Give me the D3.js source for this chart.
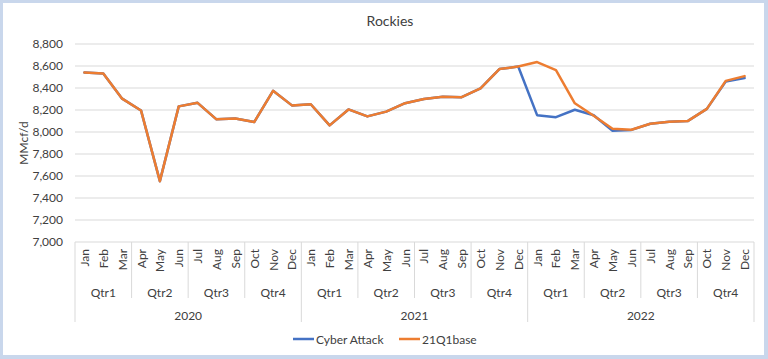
<!DOCTYPE html>
<html>
<head>
<meta charset="utf-8">
<script src="https://cdn.jsdelivr.net/npm/d3@7"></script>
<style>
  html, body { margin: 0; padding: 0; background: #c9d7ec; }
  svg { display: block; }
  text { font-family: Lato, "Open Sans", sans-serif; fill: #404040; }
</style>
</head>
<body>
<svg id="chart" width="768" height="359"></svg>
<script>
const monthNames = ["Jan","Feb","Mar","Apr","May","Jun","Jul","Aug","Sep","Oct","Nov","Dec"];
const quarterNames = ["Qtr1","Qtr2","Qtr3","Qtr4"];
const years = ["2020","2021","2022"];
const yTicks = [7000,7200,7400,7600,7800,8000,8200,8400,8600,8800];

const base21Q1 = [
  8540, 8532, 8303, 8196, 7553, 8233, 8265, 8115, 8122, 8090, 8374, 8242,
  8252, 8060, 8205, 8142, 8185, 8262, 8300, 8320, 8316, 8396, 8572, 8595,
  8636, 8563, 8261, 8148, 8030, 8021, 8075, 8093, 8101, 8210, 8465, 8508
];
const cyberAttack = [
  8540, 8532, 8303, 8196, 7553, 8233, 8265, 8115, 8122, 8090, 8374, 8242,
  8252, 8060, 8205, 8142, 8185, 8262, 8300, 8320, 8316, 8396, 8572, 8595,
  8153, 8135, 8202, 8152, 8012, 8019, 8075, 8093, 8101, 8210, 8458, 8490
];
const seriesNames = ["Cyber Attack", "21Q1base"];
const seriesColors = ["#4472C4", "#ED7D31"];

const categories = [];
years.forEach(yr => monthNames.forEach((m, i) => categories.push({year: yr, q: quarterNames[Math.floor(i/3)], m})));
const idx = d3.range(categories.length);

const svg = d3.select("#chart");
svg.append("rect").attr("x", 3).attr("y", 3).attr("width", 761).attr("height", 352).attr("fill", "#fff");

const pLeft = 75, pRight = 754, pTop = 44, pBottom = 242;
const x = d3.scaleBand().domain(idx).range([pLeft, pRight]);
const y = d3.scaleLinear().domain([7000, 8800]).range([pBottom, pTop]);

// title
svg.append("text").attr("x", 390).attr("y", 20).attr("text-anchor", "middle")
  .attr("dominant-baseline", "central").style("font-size", "14px").text("Rockies");

// gridlines
svg.append("g").selectAll("line").data(yTicks).join("line")
  .attr("x1", pLeft).attr("x2", pRight)
  .attr("y1", d => y(d)).attr("y2", d => y(d))
  .attr("stroke", "#d9d9d9").attr("stroke-width", 1);

// y axis labels
const yAxis = d3.axisLeft(y).tickValues(yTicks).tickFormat(d3.format(",")).tickSize(0).tickPadding(12);
const yg = svg.append("g").attr("transform", `translate(${pLeft},0)`).call(yAxis);
yg.select(".domain").remove();
yg.selectAll("text").style("font-size", "12px").style("font-family", "Lato, sans-serif").attr("fill", "#404040");

svg.append("text").attr("transform", `translate(23,${(pTop+pBottom)/2}) rotate(-90)`)
  .attr("text-anchor", "middle").attr("dominant-baseline", "central")
  .style("font-size", "12px").text("MMcf/d");

// category axis
const axisG = svg.append("g");
const bounds = d3.range(0, categories.length + 1, 3);
axisG.selectAll("line.div").data(bounds).join("line")
  .attr("x1", d => pLeft + d * x.step()).attr("x2", d => pLeft + d * x.step())
  .attr("y1", pBottom).attr("y2", d => d % 12 === 0 ? 322 : 298)
  .attr("stroke", "#d9d9d9");

axisG.selectAll("text.m").data(idx).join("text")
  .attr("transform", d => `translate(${x(d) + x.bandwidth()/2},249) rotate(-90)`)
  .attr("text-anchor", "end").attr("dominant-baseline", "central")
  .style("font-size", "12px").text(d => categories[d].m);

const qIdx = d3.range(categories.length / 3);
axisG.selectAll("text.q").data(qIdx).join("text")
  .attr("x", d => pLeft + (d * 3 + 1.5) * x.step()).attr("y", 292)
  .attr("text-anchor", "middle").attr("dominant-baseline", "central")
  .style("font-size", "12px").text(d => quarterNames[d % 4]);

axisG.selectAll("text.y").data(years).join("text")
  .attr("x", (d, i) => pLeft + (i * 12 + 6) * x.step()).attr("y", 315)
  .attr("text-anchor", "middle").attr("dominant-baseline", "central")
  .style("font-size", "12px").text(d => d);

// lines
const line = d3.line().x((d, i) => x(i) + x.bandwidth()/2).y(d => y(d));
[cyberAttack, base21Q1].forEach((s, k) => {
  svg.append("path").datum(s).attr("d", line).attr("fill", "none")
    .attr("stroke", seriesColors[k]).attr("stroke-width", 2.5)
    .attr("stroke-linejoin", "round").attr("stroke-linecap", "round");
});

// legend
const legendX = [293, 399];
seriesNames.forEach((n, k) => {
  svg.append("line").attr("x1", legendX[k]).attr("x2", legendX[k] + 21)
    .attr("y1", 339).attr("y2", 339).attr("stroke", seriesColors[k]).attr("stroke-width", 2.5);
  svg.append("text").attr("x", legendX[k] + 23).attr("y", 339)
    .attr("dominant-baseline", "central").style("font-size", "12px").text(n);
});
</script>
</body>
</html>
